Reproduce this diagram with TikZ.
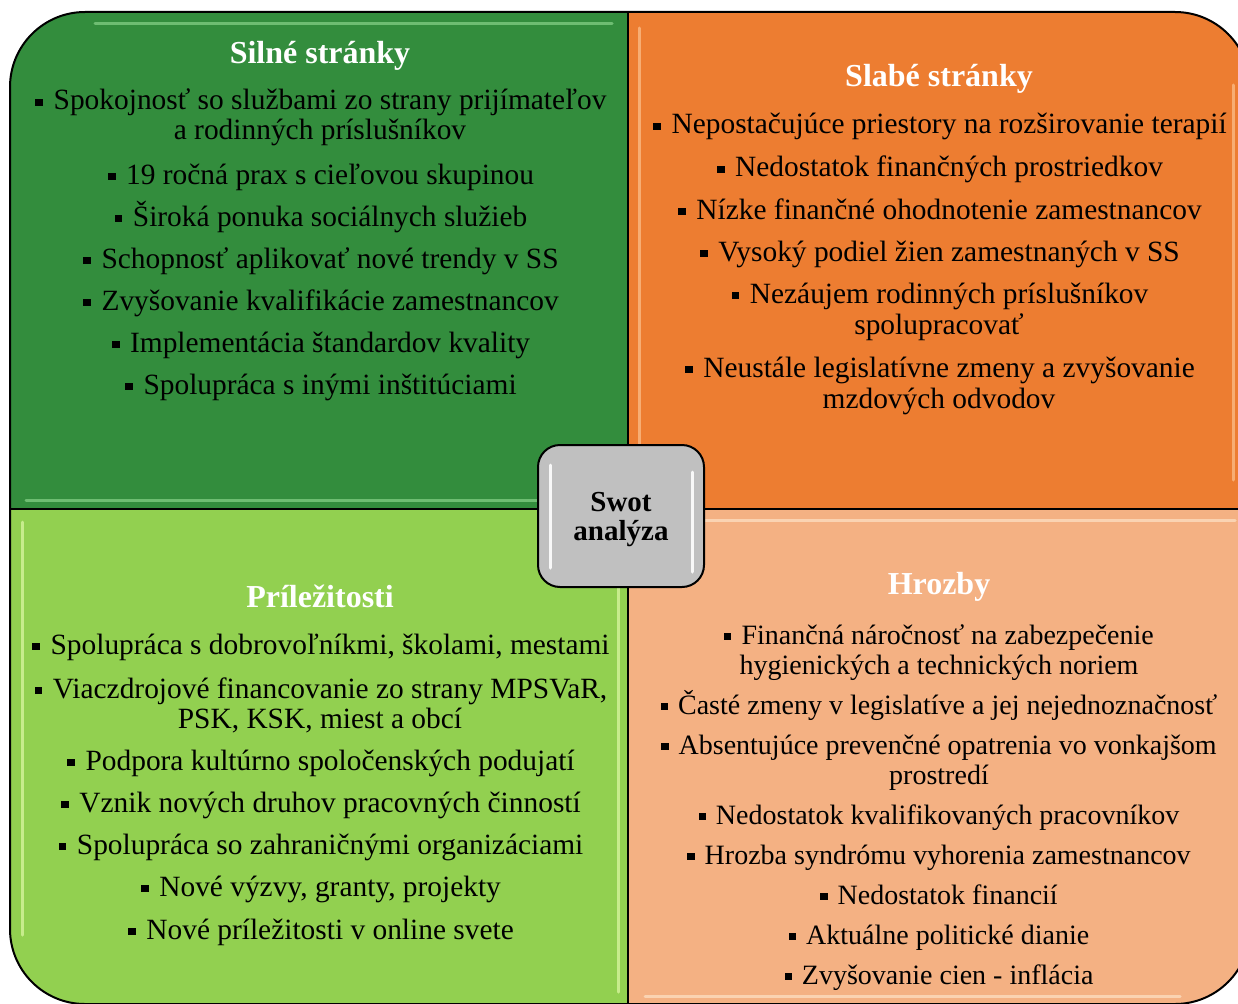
\documentclass[tikz,border=0pt]{standalone}
\usepackage{fontspec}
\setmainfont{Liberation Serif}
\definecolor{sgreen}{RGB}{51,141,61}
\definecolor{sorange}{RGB}{237,125,49}
\definecolor{lgreen}{RGB}{146,208,80}
\definecolor{peach}{RGB}{244,177,131}
\definecolor{cgray}{RGB}{192,192,192}
\definecolor{hlgreen}{RGB}{150,222,150}
\definecolor{hlorange}{RGB}{255,205,160}
\definecolor{hllgreen}{RGB}{235,255,180}
\definecolor{hlpeach}{RGB}{255,235,210}
\newcommand\sqbul{\rule[0.13em]{0.26em}{0.26em}\hspace{0.36em}}
\tikzset{
  itm/.style={anchor=base, inner sep=0pt, font=\fontsize{29.4}{30}\selectfont},
  itmt/.style={anchor=base, inner sep=0pt, font=\fontsize{28}{30}\selectfont},
  ttl/.style={anchor=base, inner sep=0pt, font=\fontsize{32}{34}\selectfont\bfseries, text=white},
  ctr/.style={anchor=base, inner sep=0pt, font=\fontsize{29}{30}\selectfont\bfseries},
  hl/.style={line width=3pt, line cap=round, opacity=0.6},
  frame/.style={line width=2pt, draw=black},
}
\begin{document}
\begin{tikzpicture}[x=1pt,y=-1pt]
\useasboundingbox (0,0) rectangle (1238,1003);
\begin{scope}
  \clip[rounded corners=75pt] (10,12) rectangle (1250,1004);
  \fill[sgreen] (10,12) rectangle (628,509);
  \fill[sorange] (628,12) rectangle (1250,509);
  \fill[lgreen] (10,509) rectangle (628,1004);
  \fill[peach] (628,509) rectangle (1250,1004);
  % bevel highlights
  \draw[hl, draw=hlgreen] (95,24) -- (612,24);
  \draw[hl, draw=hlgreen] (26,500) -- (620,500);
  \draw[hl, draw=hlorange] (639,28) -- (639,500);
  \draw[hl, draw=hlorange] (1233,85) -- (1233,480);
  \draw[hl, draw=hllgreen] (22,522) -- (22,935);
  \draw[hl, draw=hllgreen] (618,520) -- (618,992);
  \draw[hl, draw=hlpeach] (700,520) -- (1235,520);
  \draw[hl, draw=hlpeach] (645,996) -- (1180,996);
\end{scope}
\draw[frame, rounded corners=75pt] (10,12) rectangle (1250,1004);
\draw[frame] (628,12) -- (628,1004);
\draw[frame] (10,509) -- (1250,509);

% center box
\node[draw, line width=2pt, fill=cgray, rounded corners=22pt, minimum width=166pt, minimum height=142pt, inner sep=0pt] (c) at (621,516) {};
\draw[line width=3pt, white, opacity=0.9, line cap=round] (550,465) -- (550,568);
\draw[line width=3pt, white, opacity=0.9, line cap=round] (692,472) -- (692,572);
\node[ctr] (c1) at (621,511) {Swot};
\node[ctr] (c2) at (621,540) {analýza};

% Silné stránky
\node[ttl] (st) at (320,64) {Silné stránky};
\node[itm] (s1) at (321,110) {\sqbul Spokojnosť so službami zo strany prijímateľov};
\node[itm] (s1b) at (320,140) {a rodinných príslušníkov};
\node[itm] (s2) at (321,184) {\sqbul 19 ročná prax s cieľovou skupinou};
\node[itm] (s3) at (321,226) {\sqbul Široká ponuka sociálnych služieb};
\node[itm] (s4) at (321,268) {\sqbul Schopnosť aplikovať nové trendy v SS};
\node[itm] (s5) at (321,310) {\sqbul Zvyšovanie kvalifikácie zamestnancov};
\node[itm] (s6) at (321,352) {\sqbul Implementácia štandardov kvality};
\node[itm] (s7) at (321,394) {\sqbul Spolupráca s inými inštitúciami};

% Slabé stránky
\node[ttl] (wt) at (939,87) {Slabé stránky};
\node[itm] (w1) at (940,134) {\sqbul Nepostačujúce priestory na rozširovanie terapií};
\node[itm] (w2) at (940,177) {\sqbul Nedostatok finančných prostriedkov};
\node[itm] (w3) at (940,219) {\sqbul Nízke finančné ohodnotenie zamestnancov};
\node[itm] (w4) at (940,261) {\sqbul Vysoký podiel žien zamestnaných v SS};
\node[itm] (w5) at (940,303) {\sqbul Nezáujem rodinných príslušníkov};
\node[itm] (w5b) at (939,334) {spolupracovať};
\node[itm] (w6) at (940,377) {\sqbul Neustále legislatívne zmeny a zvyšovanie};
\node[itm] (w6b) at (939,408) {mzdových odvodov};

% Príležitosti
\node[ttl] (ot) at (320,607) {Príležitosti};
\node[itm] (o1) at (321,654) {\sqbul Spolupráca s dobrovoľníkmi, školami, mestami};
\node[itm] (o2) at (321,698) {\sqbul Viaczdrojové financovanie zo strany MPSVaR,};
\node[itm] (o2b) at (320,728) {PSK, KSK, miest a obcí};
\node[itm] (o3) at (321,770) {\sqbul Podpora kultúrno spoločenských podujatí};
\node[itm] (o4) at (321,812) {\sqbul Vznik nových druhov pracovných činností};
\node[itm] (o5) at (321,854) {\sqbul Spolupráca so zahraničnými organizáciami};
\node[itm] (o6) at (321,896) {\sqbul Nové výzvy, granty, projekty};
\node[itm] (o7) at (321,939) {\sqbul Nové príležitosti v online svete};

% Hrozby
\node[ttl] (tt) at (939,594) {Hrozby};
\node[itmt] (t1) at (939,644) {\sqbul Finančná náročnosť na zabezpečenie};
\node[itmt] (t1b) at (939,674) {hygienických a technických noriem};
\node[itmt] (t2) at (939,714) {\sqbul Časté zmeny v legislatíve a jej nejednoznačnosť};
\node[itmt] (t3) at (939,754) {\sqbul Absentujúce prevenčné opatrenia vo vonkajšom};
\node[itmt] (t3b) at (939,784) {prostredí};
\node[itmt] (t4) at (939,824) {\sqbul Nedostatok kvalifikovaných pracovníkov};
\node[itmt] (t5) at (939,864) {\sqbul Hrozba syndrómu vyhorenia zamestnancov};
\node[itmt] (t6) at (939,904) {\sqbul Nedostatok financií};
\node[itmt] (t7) at (939,944) {\sqbul Aktuálne politické dianie};
\node[itmt] (t8) at (939,984) {\sqbul Zvyšovanie cien - inflácia};
\end{tikzpicture}
\end{document}
